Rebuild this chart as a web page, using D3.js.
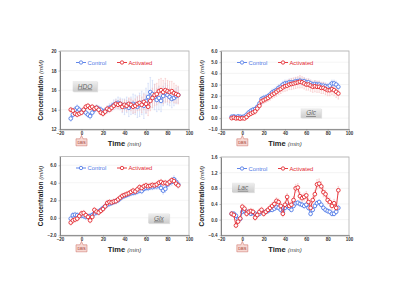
<!DOCTYPE html>
<html><head><meta charset="utf-8">
<script src="https://cdn.jsdelivr.net/npm/d3@7"></script>
<style>html,body{margin:0;padding:0;background:#fff;}svg{display:block;font-family:"Liberation Sans",Arial,sans-serif;}</style>
</head><body>
<script>
const times = [-10,-8,-6,-4,-2,0,2,4,6,8,10,12,14,16,18,20,22,24,26,28,30,32,34,36,38,40,42,44,46,48,50,52,54,56,58,60,62,64,66,68,70,72,74,76,78,80,82,84,86,88,90];
const xTicks = [-20,0,20,40,60,80,100];
const seriesNames = ["Control","Activated"];

const hdoControl = [13.1,13.5,14.0,14.2,14.0,13.8,13.9,13.7,13.5,13.35,13.7,14.0,14.2,14.1,14.0,13.8,13.9,14.0,14.2,14.3,14.5,14.6,14.7,14.6,14.4,14.3,14.5,14.2,14.4,14.6,14.5,14.3,14.5,14.7,14.4,14.9,15.3,15.8,15.6,15.3,15.0,15.2,14.9,15.4,15.7,15.5,15.3,15.1,15.2,15.4,15.5];
const hdoActivated = [14.0,13.9,13.6,13.5,13.6,13.7,14.0,14.3,14.4,14.2,14.3,14.1,14.2,14.0,13.7,13.6,13.8,14.1,14.0,14.2,14.4,14.6,14.5,14.6,14.3,14.5,14.4,14.6,14.5,14.3,14.4,14.6,14.7,14.5,14.8,14.6,14.3,14.9,15.2,15.5,15.6,15.9,16.0,15.8,16.0,15.9,15.8,15.9,15.7,15.6,15.5];
const hdoControlErr = [0.3,0.3,0.3,0.3,0.3,0.3,0.3,0.3,0.3,0.3,0.3,0.3,0.3,0.3,0.3,0.3,0.3,0.35,0.4,0.4,0.5,0.5,0.6,0.6,0.7,0.8,0.8,0.9,0.9,1.0,1.0,1.1,1.2,1.2,1.3,1.3,1.4,1.5,1.4,1.3,1.2,1.2,1.1,1.0,1.0,1.0,0.9,0.9,0.8,0.8,0.8];
const hdoActivatedErr = [0.25,0.25,0.25,0.25,0.25,0.25,0.25,0.25,0.25,0.25,0.25,0.25,0.25,0.25,0.25,0.3,0.3,0.3,0.3,0.35,0.35,0.4,0.4,0.45,0.5,0.5,0.55,0.6,0.6,0.65,0.7,0.7,0.75,0.8,0.8,0.9,0.9,1.0,1.0,1.1,1.1,1.2,1.2,1.2,1.2,1.1,1.1,1.0,1.0,0.9,0.9];

const glcControl = [0.12,0.15,0.1,0.15,0.12,0.1,0.15,0.3,0.5,0.65,0.75,0.8,1.0,1.3,1.7,1.8,1.85,1.95,2.1,2.3,2.4,2.5,2.7,2.8,3.0,3.1,3.1,3.2,3.2,3.2,3.3,3.3,3.35,3.25,3.3,3.2,3.2,3.1,3.0,3.05,3.0,3.0,2.9,2.9,2.85,2.8,2.9,3.1,3.1,3.0,2.8];
const glcActivated = [0.0,0.05,-0.02,0.0,-0.05,0.0,-0.03,0.1,0.3,0.4,0.5,0.6,0.85,1.1,1.5,1.6,1.7,1.8,1.95,2.1,2.2,2.35,2.5,2.6,2.75,2.85,2.9,3.0,3.05,3.1,3.15,3.2,3.25,3.2,3.1,3.0,3.0,2.9,2.8,2.85,2.8,2.8,2.7,2.7,2.6,2.5,2.5,2.6,2.5,2.35,2.2];
const glcControlErr = [0.15,0.15,0.15,0.15,0.15,0.15,0.15,0.15,0.15,0.2,0.2,0.2,0.2,0.2,0.2,0.25,0.25,0.25,0.25,0.3,0.3,0.3,0.3,0.3,0.3,0.3,0.3,0.3,0.3,0.3,0.3,0.3,0.3,0.3,0.3,0.3,0.3,0.3,0.3,0.3,0.3,0.3,0.3,0.3,0.3,0.3,0.3,0.3,0.3,0.3,0.3];
const glcActivatedErr = [0.15,0.15,0.15,0.15,0.15,0.15,0.15,0.15,0.2,0.2,0.2,0.25,0.25,0.25,0.3,0.3,0.3,0.3,0.35,0.35,0.35,0.4,0.4,0.4,0.4,0.45,0.45,0.45,0.5,0.5,0.5,0.5,0.55,0.5,0.5,0.5,0.5,0.5,0.5,0.5,0.5,0.5,0.5,0.5,0.5,0.5,0.5,0.5,0.5,0.5,0.5];

const glxControl = [-0.1,0.3,0.35,0.3,0.2,0.25,0.2,0.1,0.15,0.2,0.3,0.5,0.6,0.7,0.9,1.1,1.3,1.5,1.6,1.7,1.8,1.9,2.0,2.2,2.4,2.5,2.6,2.7,2.8,2.85,2.9,3.0,3.1,3.05,3.3,3.4,3.4,3.5,3.5,3.6,3.6,3.7,3.4,3.1,3.3,3.8,4.0,4.1,4.4,4.1,3.8];
const glxActivated = [-0.55,-0.3,-0.2,-0.1,0.2,0.5,0.55,0.3,0.1,-0.3,0.1,0.9,0.7,0.6,0.8,1.0,1.3,1.7,1.8,1.75,1.85,1.9,2.1,2.3,2.5,2.6,2.7,2.8,2.95,3.1,3.0,3.25,3.5,3.4,3.6,3.7,3.6,3.65,3.75,3.7,3.8,4.0,4.1,3.95,4.0,3.9,4.1,4.3,4.2,3.9,3.7];
const glxControlErr = [0.3,0.3,0.3,0.3,0.3,0.3,0.3,0.3,0.3,0.3,0.3,0.3,0.3,0.3,0.3,0.3,0.3,0.3,0.3,0.3,0.3,0.3,0.3,0.3,0.3,0.3,0.3,0.3,0.3,0.3,0.3,0.3,0.3,0.3,0.3,0.3,0.3,0.3,0.3,0.35,0.35,0.4,0.4,0.4,0.4,0.4,0.4,0.4,0.4,0.4,0.4];
const glxActivatedErr = [0.3,0.3,0.3,0.3,0.3,0.3,0.3,0.3,0.3,0.3,0.3,0.3,0.3,0.3,0.3,0.3,0.3,0.3,0.3,0.3,0.3,0.3,0.3,0.3,0.3,0.3,0.3,0.3,0.3,0.3,0.3,0.3,0.3,0.3,0.3,0.3,0.3,0.3,0.3,0.3,0.3,0.3,0.3,0.3,0.3,0.3,0.3,0.3,0.3,0.3,0.3];

const lacControl = [0.15,0.15,0.1,0.0,0.02,0.2,0.22,0.2,0.18,0.15,0.17,0.15,0.12,0.15,0.2,0.18,0.2,0.22,0.25,0.25,0.28,0.32,0.3,0.25,0.2,0.3,0.35,0.3,0.25,0.35,0.42,0.43,0.4,0.38,0.35,0.38,0.3,0.15,0.25,0.35,0.42,0.45,0.38,0.3,0.25,0.22,0.2,0.15,0.15,0.2,0.3];
const lacActivated = [0.15,0.12,-0.15,-0.05,0.03,0.33,0.28,0.15,0.2,0.22,0.2,0.05,0.12,0.2,0.25,0.15,0.2,0.25,0.3,0.35,0.4,0.48,0.45,0.35,0.15,0.38,0.58,0.35,0.38,0.5,0.8,0.82,0.6,0.55,0.58,0.62,0.45,0.3,0.5,0.65,0.9,0.92,0.85,0.7,0.65,0.5,0.45,0.35,0.42,0.3,0.75];
const lacControlErr = [0.05,0.05,0.05,0.05,0.05,0.05,0.05,0.05,0.05,0.05,0.05,0.05,0.05,0.05,0.05,0.05,0.05,0.05,0.05,0.05,0.05,0.05,0.05,0.05,0.05,0.05,0.05,0.05,0.05,0.05,0.06,0.06,0.06,0.06,0.06,0.06,0.06,0.06,0.06,0.06,0.06,0.06,0.06,0.06,0.06,0.06,0.06,0.06,0.06,0.06,0.06];
const lacActivatedErr = [0.06,0.06,0.06,0.06,0.06,0.07,0.07,0.07,0.07,0.07,0.07,0.07,0.07,0.07,0.07,0.07,0.07,0.07,0.08,0.08,0.08,0.08,0.08,0.08,0.08,0.08,0.09,0.09,0.09,0.09,0.1,0.1,0.1,0.1,0.1,0.1,0.1,0.1,0.1,0.1,0.12,0.12,0.12,0.12,0.1,0.1,0.1,0.1,0.1,0.1,0.1];

const panelNames = ["HDO","Glc","Glx","Lac"];
const hdoTicks = [12,14,16,18,20];
const glcTicks = [-1,0,1,2,3,4,5,6];
const glxTicks = [-2,0,2,4,6];
const lacTicks = [-0.4,0,0.4,0.8,1.2,1.6];

const panels = [
  {name:panelNames[0], c:hdoControl, a:hdoActivated, ce:hdoControlErr, ae:hdoActivatedErr, dom:[12,20], ticks:hdoTicks, fmt:d3.format("d"),
   x0:60, x1:189, y0:51, y1:129.3, box:[72.7,81,24.6,10.5]},
  {name:panelNames[1], c:glcControl, a:glcActivated, ce:glcControlErr, ae:glcActivatedErr, dom:[-1,6], ticks:glcTicks, fmt:d3.format(".1f"),
   x0:221, x1:349, y0:51, y1:129.3, box:[300.7,108.3,20.6,9.5]},
  {name:panelNames[2], c:glxControl, a:glxActivated, ce:glxControlErr, ae:glxActivatedErr, dom:[-2,7], ticks:glxTicks, fmt:d3.format(".1f"),
   x0:60, x1:189, y0:156.5, y1:235.3, box:[148.3,213.3,21,10]},
  {name:panelNames[3], c:lacControl, a:lacActivated, ce:lacControlErr, ae:lacActivatedErr, dom:[-0.4,1.6], ticks:lacTicks, fmt:d3.format(".1f"),
   x0:221, x1:349, y0:157, y1:235.3, box:[232,182.7,22,9.6]}
];

const colors = {Control:"#4f79e6", Activated:"#e3272e"};
const errColors = {Control:"#c3d1f5", Activated:"#f5bcbc"};

const svg = d3.select("body").append("svg").attr("width",400).attr("height",300);
const defs = svg.append("defs");
const grad = defs.append("linearGradient").attr("id","boxg").attr("x1",0).attr("y1",0).attr("x2",0).attr("y2",1);
grad.append("stop").attr("offset","0%").attr("stop-color","#efefef");
grad.append("stop").attr("offset","100%").attr("stop-color","#cdcdcd");

panels.forEach(p => {
  const g = svg.append("g");
  const x = d3.scaleLinear().domain([-20,100]).range([p.x0,p.x1]);
  const y = d3.scaleLinear().domain(p.dom).range([p.y1,p.y0]);

  g.selectAll("line.grid").data(p.ticks).join("line")
    .attr("x1",p.x0).attr("x2",p.x1).attr("y1",d=>y(d)).attr("y2",d=>y(d))
    .attr("stroke","#ececec").attr("stroke-width",0.6);
  g.append("rect").attr("x",p.x0).attr("y",p.y0).attr("width",p.x1-p.x0).attr("height",p.y1-p.y0)
    .attr("fill","none").attr("stroke","#b0b0b0").attr("stroke-width",0.8);

  const xa = g.append("g").attr("transform",`translate(0,${p.y1})`)
    .call(d3.axisBottom(x).tickValues(xTicks).tickSize(1.5).tickSizeOuter(0).tickPadding(1.5).tickFormat(d3.format("d")));
  const ya = g.append("g").attr("transform",`translate(${p.x0},0)`)
    .call(d3.axisLeft(y).tickValues(p.ticks).tickSize(1.5).tickSizeOuter(0).tickPadding(2).tickFormat(p.fmt));
  [xa,ya].forEach(a => {
    a.select(".domain").attr("stroke","#777").attr("stroke-width",0.9);
    a.selectAll(".tick line").attr("stroke","#777").attr("stroke-width",0.5);
    a.selectAll("text").attr("font-size",4.5).attr("font-weight","bold").attr("fill","#333")
      .attr("font-family","'Liberation Sans',Arial,sans-serif");
  });

  const series = [{key:"Control", v:p.c, e:p.ce},{key:"Activated", v:p.a, e:p.ae}];
  series.forEach(s => {
    const eg = g.append("g");
    eg.selectAll("line").data(times).join("line")
      .attr("x1",(t)=>x(t)).attr("x2",(t)=>x(t))
      .attr("y1",(t,i)=>y(s.v[i]-s.e[i])).attr("y2",(t,i)=>y(s.v[i]+s.e[i]))
      .attr("stroke",errColors[s.key]).attr("stroke-width",0.6);
    eg.selectAll("path").data(times).join("path")
      .attr("d",(t,i)=>`M${x(t)-0.8},${y(s.v[i]+s.e[i])}h1.6M${x(t)-0.8},${y(s.v[i]-s.e[i])}h1.6`)
      .attr("stroke",errColors[s.key]).attr("stroke-width",0.5);
  });
  series.forEach(s => {
    const line = d3.line().x(t=>x(t)).y((t,i)=>y(s.v[i]));
    g.append("path").datum(times).attr("d",line).attr("fill","none")
      .attr("stroke",colors[s.key]).attr("stroke-width",0.9);
    g.append("g").selectAll("circle").data(times).join("circle")
      .attr("cx",t=>x(t)).attr("cy",(t,i)=>y(s.v[i])).attr("r",1.85)
      .attr("fill","#fff").attr("stroke",colors[s.key]).attr("stroke-width",0.9);
  });

  const ly = p.y0 + 11.5;
  const lx = [p.x0+16, p.x0+57];
  seriesNames.forEach((nm,i) => {
    const lg = g.append("g");
    lg.append("line").attr("x1",lx[i]).attr("x2",lx[i]+10).attr("y1",ly).attr("y2",ly)
      .attr("stroke",colors[nm]).attr("stroke-width",0.9);
    lg.append("circle").attr("cx",lx[i]+5).attr("cy",ly).attr("r",1.7)
      .attr("fill","#fff").attr("stroke",colors[nm]).attr("stroke-width",0.85);
    lg.append("text").attr("x",lx[i]+11.5).attr("y",ly+2).text(nm)
      .attr("font-size",5.8).attr("fill",colors[nm]);
  });

  const [bx,by,bw,bh] = p.box;
  g.append("rect").attr("x",bx+0.8).attr("y",by+0.8).attr("width",bw).attr("height",bh).attr("fill","#e2e2e2");
  g.append("rect").attr("x",bx).attr("y",by).attr("width",bw).attr("height",bh).attr("fill","url(#boxg)");
  g.append("text").attr("x",bx+bw/2).attr("y",by+bh/2+2.3).attr("text-anchor","middle")
    .attr("font-size",6.5).attr("font-style","italic").attr("text-decoration","underline")
    .attr("fill","#666").text(p.name);

  const x0 = x(0), yb = p.y1;
  g.append("path")
    .attr("d",`M${x0-5.5},${yb+9.5}H${x0-1.5}L${x0},${yb+6}L${x0+1.5},${yb+9.5}H${x0+5.5}V${yb+16.5}H${x0-5.5}Z`)
    .attr("fill","#f7d9d3").attr("stroke","#c8685e").attr("stroke-width",0.5);
  g.append("text").attr("x",x0).attr("y",yb+14.6).attr("text-anchor","middle")
    .attr("font-size",4).attr("fill","#9b2a22").text("DBS");

  const xt = g.append("text").attr("x",(p.x0+p.x1)/2).attr("y",p.y1+16.5).attr("text-anchor","middle").attr("fill","#222");
  xt.append("tspan").attr("font-size",7.5).attr("font-weight","bold").text("Time ");
  xt.append("tspan").attr("font-size",6.2).attr("font-style","italic").attr("fill","#444").text("(min)");

  const cy = (p.y0+p.y1)/2, cx = p.x0-17;
  const yt = g.append("text").attr("transform",`translate(${cx},${cy}) rotate(-90)`).attr("text-anchor","middle").attr("fill","#222");
  yt.append("tspan").attr("font-size",6.6).attr("font-weight","bold").text("Concentration ");
  yt.append("tspan").attr("font-size",6).attr("font-style","italic").attr("fill","#444").text("(mM)");
});
</script>
</body></html>
